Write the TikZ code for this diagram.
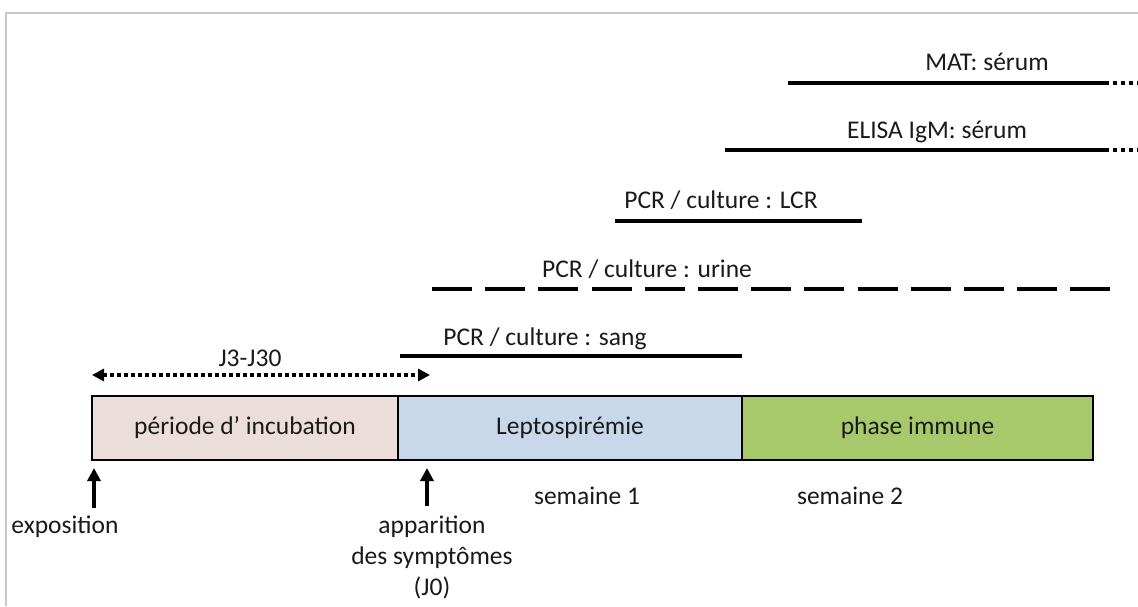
\documentclass[tikz,border=0pt]{standalone}
\usepackage{fontspec}
\setmainfont{Carlito}
\usetikzlibrary{arrows.meta,positioning}
\definecolor{incub}{HTML}{EBDDD9}
\definecolor{lepto}{HTML}{C8D7EA}
\definecolor{immune}{HTML}{A7C96C}
\definecolor{framegray}{HTML}{C8C8C8}
\definecolor{ink}{HTML}{1A1A1A}

\begin{document}
\begin{tikzpicture}[x=1pt,y=-1pt,
  txt/.style={font=\fontsize{25.5}{31}\selectfont,text=ink,inner sep=0pt},
  lab/.style={txt,anchor=base},
  phase/.style={txt,draw=black,line width=2.8pt,outer sep=0pt,
                minimum height=64pt,inner sep=0pt},
  test/.style={line width=3.6pt},
  urine/.style={test,dash pattern=on 40pt off 13.2pt},
  more/.style={test,dash pattern=on 4pt off 4pt},
  span/.style={{Triangle[length=12pt,width=12pt]}-{Triangle[length=12pt,width=12pt]},
               line width=3.5pt,dash pattern=on 4pt off 3pt},
  up/.style={-{Triangle[length=13pt,width=13pt]},line width=3.5pt}]

  \useasboundingbox[fill=white] (0,0) rectangle (1138,606);
  \draw[framegray,line width=1.5pt] (1138,13) -- (6,13) -- (6,606);

  \node[phase,fill=incub,minimum width=306pt] (incub) at (245,428) {période d’ incubation};
  \node[phase,fill=lepto,minimum width=344pt,right=0pt of incub] (lepto) {Leptospirémie};
  \node[phase,fill=immune,minimum width=351pt,right=0pt of lepto] (immune) {phase immune};

  \coordinate (matL) at (788,83);    \coordinate (matR) at (1105,83);
  \coordinate (matEnd) at (1138,83);
  \coordinate (elisaL) at (725,150); \coordinate (elisaR) at (1105,150);
  \coordinate (elisaEnd) at (1138,150);
  \coordinate (lcrL) at (615,221);   \coordinate (lcrR) at (862,221);
  \coordinate (urineL) at (432,289); \coordinate (urineR) at (1110,289);
  \coordinate (sangL) at (400,356);  \coordinate (sangR) at (742,356);
  \coordinate (spanL) at (92,375);   \coordinate (spanR) at (430,375);

  \node[lab] (mat)   at (987,70)  {MAT: sérum};
  \node[lab] (elisa) at (937,138) {ELISA IgM: sérum};
  \node[lab] (lcr)   at (721,208) {PCR / culture : LCR};
  \node[lab] (urn)   at (647,277) {PCR / culture : urine};
  \node[lab] (sang)  at (545,345) {PCR / culture : sang};
  \node[lab] (delay) at (250,366) {J3-J30};

  \draw[test] (matL) -- (matR);
  \draw[more] (matR) -- (matEnd);
  \draw[test] (elisaL) -- (elisaR);
  \draw[more] (elisaR) -- (elisaEnd);
  \draw[test] (lcrL) -- (lcrR);
  \draw[urine] (urineL) -- (urineR);
  \draw[test] (sangL) -- (sangR);
  \draw[span] (spanL) -- (spanR);

  \node[lab] (expo) at (65,533) {exposition};
  \node[txt,align=center,anchor=north] (onset) at (432,516) {apparition\\des symptômes\\(J0)};
  \node[lab] (week1) at (587,504) {semaine 1};
  \node[lab] (week2) at (850,504) {semaine 2};

  \coordinate (expoFoot) at (94,508);
  \coordinate (onsetFoot) at (427,506);
  \draw[up,shorten >=8pt] (expoFoot) -- (expoFoot |- incub.south);
  \draw[up,shorten >=8pt] (onsetFoot) -- (onsetFoot |- lepto.south);
\end{tikzpicture}
\end{document}
